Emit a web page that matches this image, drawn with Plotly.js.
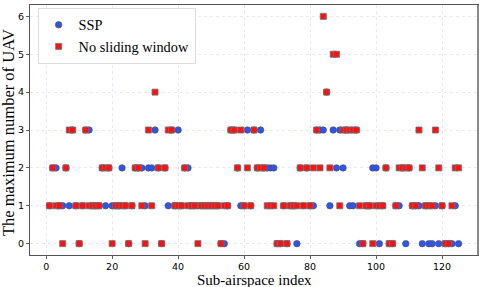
<!DOCTYPE html>
<html>
<head>
<meta charset="utf-8">
<script src="https://cdn.plot.ly/plotly-3.0.1.min.js"></script>
<style>
  html, body { margin: 0; padding: 0; background: #ffffff; }
  #chart { width: 485px; height: 287px; }
</style>
</head>
<body>
<div id="chart"></div>
<script>
// Sub-airspace indices 1..125
const subAirspaceIndex = [
  1,2,3,4,5,6,7,8,9,10,11,12,13,14,15,16,17,18,19,20,
  21,22,23,24,25,26,27,28,29,30,31,32,33,34,35,36,37,38,39,40,
  41,42,43,44,45,46,47,48,49,50,51,52,53,54,55,56,57,58,59,60,
  61,62,63,64,65,66,67,68,69,70,71,72,73,74,75,76,77,78,79,80,
  81,82,83,84,85,86,87,88,89,90,91,92,93,94,95,96,97,98,99,100,
  101,102,103,104,105,106,107,108,109,110,111,112,113,114,115,116,117,118,119,120,
  121,122,123,124,125
];

// SSP (blue circles)
const sspValues = [
  1,2,2,1,1,2,1,3,1,0,1,3,3,1,1,1,2,1,2,1,
  1,1,2,1,0,1,2,2,2,1,2,2,3,2,0,2,1,3,1,3,
  1,2,2,1,1,1,1,1,1,1,1,1,0,0,1,3,3,2,1,1,
  3,1,3,2,3,2,2,2,2,0,0,1,0,1,1,0,2,1,2,1,
  1,3,3,3,4,1,3,2,3,2,3,1,1,3,0,0,1,1,2,2,
  0,1,2,0,0,1,1,2,0,2,1,1,1,0,1,0,0,1,0,1,
  0,0,0,1,0
];

// No sliding window (red squares)
const noSlidingValues = [
  1,2,1,1,0,2,3,3,1,0,1,3,1,1,1,1,2,2,2,0,
  1,1,1,1,0,1,2,2,1,0,3,1,4,2,0,2,3,3,1,1,
  1,2,1,1,1,0,1,1,1,1,1,1,0,1,1,3,3,2,3,1,
  2,1,3,2,2,2,1,1,1,0,0,1,0,1,1,1,2,1,2,1,
  2,3,2,6,4,2,5,5,1,3,3,3,3,3,1,0,1,1,0,1,
  1,1,2,0,0,1,2,2,2,2,1,1,3,2,1,1,1,3,2,1,
  0,0,1,2,2
];

const xTicks = [0, 20, 40, 60, 80, 100, 120];
const yTicks = [0, 1, 2, 3, 4, 5, 6];
const xTitle = 'Sub-airspace index';
const yTitle = 'The maximum number of UAV';

const serif = '"Liberation Serif", "Times New Roman", serif';
const sans = '"DejaVu Sans", sans-serif';

const traces = [
  {
    type: 'scatter', mode: 'markers', name: 'SSP',
    x: subAirspaceIndex, y: sspValues,
    marker: { symbol: 'circle', size: 6.5, color: '#2f55e8', line: { color: '#4a4a6a', width: 0.6 } }
  },
  {
    type: 'scatter', mode: 'markers', name: 'No sliding window',
    x: subAirspaceIndex, y: noSlidingValues,
    marker: { symbol: 'square', size: 6, color: '#ff1010', line: { color: '#707070', width: 0.8 } }
  }
];

const gridStyle = { showgrid: true, gridcolor: 'rgba(185,185,255,0.45)', griddash: 'dot', gridwidth: 0.8 };

const layout = {
  width: 485, height: 287,
  margin: { l: 30, r: 7, t: 5, b: 32 },
  paper_bgcolor: '#ffffff', plot_bgcolor: '#ffffff',
  showlegend: true,
  legend: {
    x: 0.017, y: 0.988, xanchor: 'left', yanchor: 'top',
    bgcolor: 'rgba(255,255,255,0.9)', bordercolor: '#dcdcdc', borderwidth: 1,
    font: { family: serif, size: 14.3, color: '#000' },
    tracegroupgap: 0,
    entrywidth: 160, entrywidthmode: 'pixels'
  },
  xaxis: Object.assign({
    range: [-4.9, 130.9],
    tickvals: xTicks, ticktext: xTicks.map(String),
    ticks: 'outside', ticklen: 3, tickcolor: '#333', tickwidth: 0.8,
    tickfont: { family: sans, size: 9.5, color: '#000' },
    zeroline: false,
    showline: true, mirror: true, linecolor: '#555', linewidth: 1
  }, gridStyle),
  yaxis: Object.assign({
    range: [-0.3, 6.3],
    tickvals: yTicks, ticktext: yTicks.map(String),
    ticks: 'outside', ticklen: 3, tickcolor: '#333', tickwidth: 0.8,
    tickfont: { family: sans, size: 9.5, color: '#000' },
    zeroline: false,
    showline: true, mirror: true, linecolor: '#555', linewidth: 1
  }, gridStyle),
  annotations: [
    {
      text: xTitle, xref: 'paper', yref: 'paper', x: 0.5, y: -0.1,
      xanchor: 'center', yanchor: 'middle', showarrow: false,
      font: { family: serif, size: 15, color: '#000' }
    },
    {
      text: yTitle, xref: 'paper', yref: 'paper', x: -0.048, y: 0.49,
      xanchor: 'center', yanchor: 'middle', showarrow: false, textangle: -90,
      font: { family: serif, size: 16.5, color: '#000' }
    }
  ],
  shapes: [
    { type: 'line', xref: 'paper', yref: 'paper', x0: 1, x1: 1, y0: 0, y1: 1,
      line: { color: '#8a8a8a', width: 2 } }
  ]
};

Plotly.newPlot('chart', traces, layout, { displayModeBar: false, staticPlot: true });
</script>
</body>
</html>
